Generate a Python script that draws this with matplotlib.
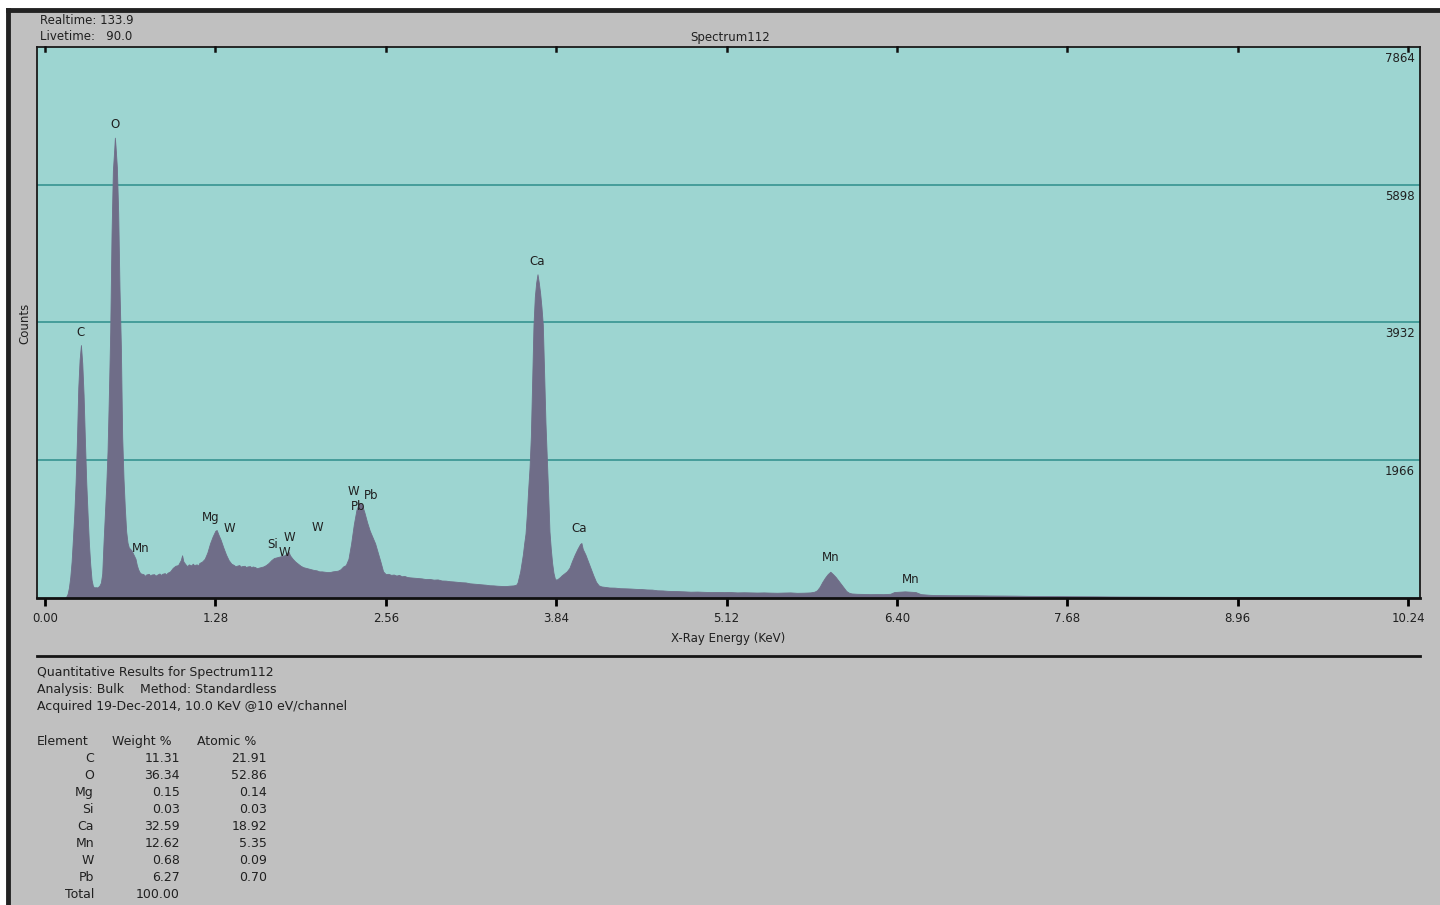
import matplotlib.pyplot as plt
import numpy as np

# EDS spectrum, counts per channel vs X-ray energy (keV)
energy_kev = [
    0.00, 0.15, 0.16, 0.17, 0.18, 0.19, 0.20, 0.21, 0.22, 0.23, 0.24, 0.25, 0.26, 0.27,
    0.28, 0.29, 0.30, 0.31, 0.32, 0.33, 0.34, 0.35, 0.36, 0.37, 0.38, 0.39,
    0.40, 0.41, 0.42, 0.43, 0.44, 0.45, 0.46, 0.47, 0.48, 0.49, 0.50, 0.51, 0.52, 0.525,
    0.53, 0.54, 0.55, 0.56, 0.57, 0.58, 0.59, 0.60, 0.61, 0.62, 0.63, 0.64, 0.65, 0.66,
    0.67, 0.68, 0.69, 0.70, 0.71, 0.72, 0.74, 0.75, 0.76, 0.78, 0.79, 0.80, 0.82, 0.83,
    0.84, 0.86, 0.87, 0.88, 0.90, 0.91, 0.92, 0.94, 0.96, 0.98, 1.00, 1.02, 1.03, 1.04,
    1.06, 1.07, 1.08, 1.10, 1.11, 1.12, 1.14, 1.15, 1.16, 1.18, 1.20, 1.22, 1.24, 1.26,
    1.28, 1.29, 1.30, 1.32, 1.34, 1.36, 1.38, 1.40, 1.42, 1.43, 1.44, 1.46, 1.47, 1.48,
    1.50, 1.51, 1.52, 1.54, 1.55, 1.56, 1.58, 1.59, 1.60, 1.62, 1.64, 1.66, 1.68,
    1.70, 1.72, 1.74, 1.76, 1.78, 1.80, 1.82, 1.83, 1.84, 1.86, 1.88, 1.90, 1.92, 1.94,
    1.96, 1.98, 2.00, 2.02, 2.04, 2.06, 2.08, 2.10, 2.12, 2.14, 2.16, 2.18, 2.20, 2.22,
    2.24, 2.26, 2.28, 2.30, 2.32, 2.34, 2.36, 2.38, 2.40, 2.42, 2.44, 2.46, 2.48, 2.50,
    2.52, 2.54, 2.56, 2.58, 2.60, 2.62, 2.64, 2.66, 2.68, 2.70, 2.72, 2.74, 2.77, 2.80,
    2.83, 2.86, 2.89, 2.92, 2.95, 2.98, 3.01, 3.04, 3.07, 3.10, 3.13, 3.16, 3.19, 3.22,
    3.25, 3.28, 3.31, 3.34, 3.37, 3.40, 3.43, 3.46, 3.49, 3.52, 3.54,
    3.55, 3.56, 3.57, 3.58, 3.59, 3.60, 3.61, 3.62, 3.63, 3.64, 3.65, 3.66, 3.67, 3.68,
    3.69, 3.70, 3.71, 3.72, 3.73, 3.74, 3.75, 3.76, 3.77, 3.78, 3.79, 3.80, 3.81, 3.82,
    3.83, 3.84, 3.85, 3.86, 3.87, 3.88, 3.90, 3.92, 3.94, 3.96, 3.98, 4.00, 4.02, 4.03,
    4.04, 4.06, 4.08, 4.10, 4.12, 4.14, 4.16, 4.18, 4.20, 4.24, 4.28, 4.32, 4.36, 4.40,
    4.44, 4.48, 4.52, 4.56, 4.60, 4.64, 4.68, 4.72, 4.76, 4.80, 4.85, 4.90, 4.95, 5.00,
    5.05, 5.10, 5.15, 5.20, 5.25, 5.30, 5.35, 5.40, 5.45, 5.50, 5.55, 5.60, 5.65, 5.70,
    5.75, 5.78, 5.80, 5.82, 5.84, 5.86, 5.88, 5.90, 5.92, 5.94, 5.96, 5.98, 6.00, 6.02,
    6.04, 6.06, 6.10, 6.15, 6.20, 6.25, 6.30, 6.35, 6.38, 6.42, 6.46, 6.50, 6.54, 6.58,
    6.65, 6.70, 6.80, 6.90, 7.00, 7.10, 7.20, 7.30, 7.40, 7.50, 7.60, 7.70, 7.80, 7.90,
    8.00, 8.20, 8.40, 8.60, 8.80, 9.00, 9.30, 9.60, 9.90, 10.20, 10.33,
]
counts = [
    0, 0, 20, 60, 150, 300, 520, 850, 1200, 1650, 2250, 3000, 3400, 3610,
    3350, 2900, 2250, 1650, 1200, 780, 480, 260, 170, 150, 155, 150,
    160, 180, 220, 350, 800, 1200, 1600, 2100, 2900, 3800, 5200, 6100, 6400, 6570,
    6450, 6150, 5500, 4400, 3600, 2300, 1700, 1280, 950, 790, 720, 700, 680, 640,
    600, 560, 470, 410, 370, 350, 340, 315, 335, 345, 320, 335, 340, 318,
    330, 350, 328, 345, 355, 335, 360, 380, 430, 460, 470, 540, 610, 520,
    470, 455, 480, 465, 490, 470, 480, 462, 500, 520, 560, 650, 780, 880,
    960, 970, 920, 830, 720, 620, 540, 490, 470, 452, 460, 470, 448, 455,
    460, 440, 450, 455, 438, 450, 440, 425, 430, 440, 450, 470, 500,
    540, 570, 580, 590, 600, 610, 640, 660, 610, 560, 520, 490, 460, 440,
    430, 420, 410, 400, 395, 380, 380, 375, 370, 370, 380, 385, 390, 410,
    450, 470, 560, 780, 1050, 1260, 1360, 1340, 1220, 1080, 960, 870, 780, 650,
    520, 380, 340, 345, 330, 335, 320, 330, 310, 315, 300, 295, 290, 285,
    280, 270, 272, 262, 265, 250, 248, 240, 236, 230, 225, 222, 210, 205,
    200, 195, 190, 182, 180, 175, 172, 170, 176, 180, 190,
    220, 300, 380, 500, 620, 780, 920, 1200, 1550, 1850, 2300, 3100, 3900, 4300,
    4500, 4620, 4500, 4350, 4150, 3900, 3200, 2500, 2000, 1500, 950, 700, 500, 360,
    280, 260, 270, 285, 300, 320, 350, 380, 430, 530, 620, 700, 770, 785,
    700, 620, 520, 420, 320, 230, 180, 165, 160, 150, 148, 140, 138, 135,
    130, 128, 122, 120, 110, 108, 102, 100, 98, 95, 90, 92, 88, 85,
    86, 84, 85, 80, 82, 80, 78, 80, 77, 75, 78, 80, 74, 76,
    80, 90, 110, 160, 230, 290, 340, 375, 340, 300, 250, 200, 150, 100,
    75, 65, 60, 58, 55, 56, 55, 60, 85, 90, 95, 90, 85, 55,
    45, 42, 40, 39, 38, 36, 35, 33, 30, 29, 28, 26, 25, 24,
    22, 20, 18, 16, 15, 12, 11, 10, 9, 8, 6,
]

# element markers placed over the peaks
peak_labels = ["C", "O", "Mn", "Mg", "W", "Si", "W", "W", "W", "W", "Pb", "Pb",
               "Ca", "Ca", "Mn", "Mn"]
label_kev = [0.27, 0.526, 0.72, 1.247, 1.382, 1.71, 1.833, 1.80, 2.044, 2.32, 2.45, 2.35,
             3.696, 4.012, 5.905, 6.50]
label_counts = [3796, 6764, 713, 1142, 999, 760, 870, 650, 1013, 1513, 1470, 1299,
                4809, 985, 585, 271]

count_ticks = [1966, 3932, 5898, 7864]
kev_ticks = [0.00, 1.28, 2.56, 3.84, 5.12, 6.40, 7.68, 8.96, 10.24]

# quantitative results table
elements = ["C", "O", "Mg", "Si", "Ca", "Mn", "W", "Pb"]
weight_pct = ["11.31", "36.34", "0.15", "0.03", "32.59", "12.62", "0.68", "6.27"]
atomic_pct = ["21.91", "52.86", "0.14", "0.03", "18.92", "5.35", "0.09", "0.70"]

W, H = 1440, 905
fig = plt.figure(figsize=(W / 100, H / 100), dpi=100, facecolor="#c0c0c0")
plt.rcParams["font.family"] = ["DejaVu Sans"]

def fx(px):
    return px / W

def fy(py):
    return 1 - py / H

# outer dark frame on the left and top
fig.add_artist(plt.Line2D([fx(8), fx(8)], [fy(10), 0], color="#222222", lw=3.5))
fig.add_artist(plt.Line2D([fx(8), 1], [fy(10), fy(10)], color="#222222", lw=3.5))
fig.patches.append(plt.Rectangle((0, fy(8.5)), 1, 8.5 / H, transform=fig.transFigure,
                                 color="white", zorder=-1))
fig.patches.append(plt.Rectangle((0, 0), fx(6.5), 1, transform=fig.transFigure,
                                 color="white", zorder=-1))

ax = fig.add_axes([fx(37), fy(598), fx(1420 - 37), (598 - 47) / H])
ax.set_facecolor("#9dd5d1")
ax.fill_between(energy_kev, counts, color="#6f6d88", lw=0.6, edgecolor="#6f6d88",
                zorder=2)

ax.set_xlim(-0.06, 10.33)
ax.set_ylim(0, 7864)

for c in count_ticks[:-1]:
    ax.axhline(c, color="#2e8e8b", lw=1.1, zorder=1)
for c in count_ticks:
    ax.text(10.29, c - 70, str(c), ha="right", va="top", fontsize=8.5, color="#202020")

ax.set_xticks(kev_ticks)
ax.set_xticklabels([f"{t:.2f}" for t in kev_ticks], fontsize=8.5, color="#202020")
ax.tick_params(axis="x", which="both", direction="out", length=6, width=2, pad=4,
               top=False, labeltop=False)
ax.set_yticks([])
ax.set_xlabel("X-Ray Energy (KeV)", fontsize=8.5, labelpad=5, color="#202020")

for name, k, c in zip(peak_labels, label_kev, label_counts):
    ax.text(k, c, name, ha="center", va="center", fontsize=8.5, color="#202020", zorder=3)

for side in ["left", "right", "top"]:
    ax.spines[side].set_linewidth(1.3)
    ax.spines[side].set_color("#1a1a1a")
ax.spines["bottom"].set_linewidth(2)
ax.spines["bottom"].set_color("#101010")

# top ticks point into the plot
for t in kev_ticks:
    ax.plot([t, t], [7864, 7864 - 60], color="#101010", lw=1.8, zorder=4, clip_on=False)

# header texts
fig.text(fx(40), fy(21), "Realtime: 133.9", fontsize=8.5, va="center", color="#202020")
fig.text(fx(40), fy(37), "Livetime:   90.0", fontsize=8.5, va="center", color="#202020")
fig.text(fx(730), fy(37), "Spectrum112", fontsize=8.5, ha="center", va="center",
         color="#202020")
fig.text(fx(25), fy(323), "Counts", fontsize=8.5, rotation=90, ha="center", va="center",
         color="#202020")

# separator and results block
fig.add_artist(plt.Line2D([fx(37), fx(1420)], [fy(656), fy(656)], color="#151515", lw=2))
block = ["Quantitative Results for Spectrum112",
         "Analysis: Bulk    Method: Standardless",
         "Acquired 19-Dec-2014, 10.0 KeV @10 eV/channel"]
for i, line in enumerate(block):
    fig.text(fx(37), fy(672 + 17 * i), line, fontsize=9, va="center", color="#202020")

fig.text(fx(37), fy(741), "Element", fontsize=9, va="center", color="#202020")
fig.text(fx(112), fy(741), "Weight %", fontsize=9, va="center", color="#202020")
fig.text(fx(197), fy(741), "Atomic %", fontsize=9, va="center", color="#202020")
rows = list(zip(elements, weight_pct, atomic_pct)) + [("Total", "100.00", "")]
for i, (el, wt, at) in enumerate(rows):
    y = fy(758 + 17 * i)
    fig.text(fx(94), y, el, fontsize=9, ha="right", va="center", color="#202020")
    fig.text(fx(180), y, wt, fontsize=9, ha="right", va="center", color="#202020")
    if at:
        fig.text(fx(267), y, at, fontsize=9, ha="right", va="center", color="#202020")

fig.savefig("out.png", dpi=100, facecolor=fig.get_facecolor())
